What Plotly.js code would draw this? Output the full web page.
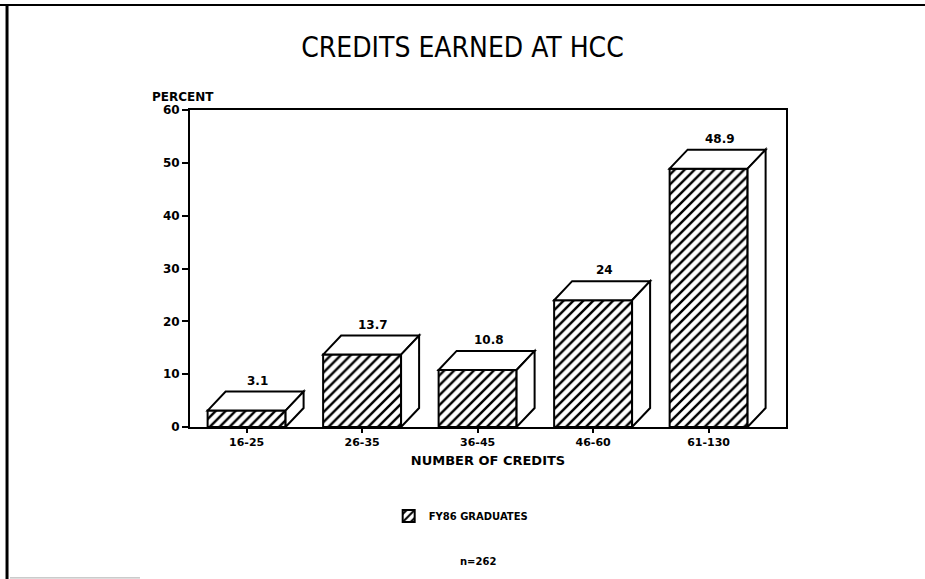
<!DOCTYPE html>
<html>
<head>
<meta charset="utf-8">
<script src="https://cdn.plot.ly/plotly-3.0.1.min.js"></script>
<style>html,body{margin:0;padding:0;background:#fff;}#chart{width:925px;height:579px;}</style>
</head>
<body>
<div id="chart"></div>
<script>
var categories = ["16-25", "26-35", "36-45", "46-60", "61-130"];
var percents = [3.1, 13.7, 10.8, 24, 48.9];
var valueLabels = ["3.1", "13.7", "10.8", "24", "48.9"];
var seriesName = "FY86 GRADUATES";
var yTicks = [0, 10, 20, 30, 40, 50, 60];

var idx = categories.map(function (c, i) { return i; });
var barWidth = 0.675;
var half = barWidth / 2;
var dx = 0.156;   // depth offset along x (category units)
var dy = 3.6;     // depth offset along y (percent units)

var boldFont = {family: "DejaVu Sans", size: 11, color: "#000", weight: "bold"};

var trace = {
  type: "bar",
  x: idx,
  y: percents,
  width: barWidth,
  name: seriesName,
  showlegend: true,
  marker: {
    color: "white",
    line: {color: "black", width: 2},
    pattern: {shape: "/", fgcolor: "black", bgcolor: "white", size: 7, solidity: 0.35}
  },
  hoverinfo: "skip"
};

var shapes = [];
idx.forEach(function (i) {
  var v = percents[i];
  var L = i - half, R = i + half;
  shapes.push({
    type: "path", xref: "x", yref: "y", layer: "above",
    path: "M" + L + "," + v + " L" + (L + dx) + "," + (v + dy) + " L" + (R + dx) + "," + (v + dy) + " L" + R + "," + v + " Z",
    fillcolor: "white", line: {color: "black", width: 2}
  });
  shapes.push({
    type: "path", xref: "x", yref: "y", layer: "above",
    path: "M" + R + "," + v + " L" + (R + dx) + "," + (v + dy) + " L" + (R + dx) + "," + dy + " L" + R + ",0 Z",
    fillcolor: "white", line: {color: "black", width: 2}
  });
});
// page frame
shapes.push({type: "line", xref: "paper", yref: "paper", x0: -0.3188, x1: 1.2332, y0: 1.3312, y1: 1.3312, line: {color: "black", width: 2}});
shapes.push({type: "line", xref: "paper", yref: "paper", x0: -0.307, x1: -0.307, y0: 1.3312, y1: -0.4795, line: {color: "black", width: 3}});
shapes.push({type: "line", xref: "paper", yref: "paper", x0: -0.302, x1: -0.0839, y0: -0.476, y1: -0.476, line: {color: "#aaa", width: 1}});

var annotations = idx.map(function (i) {
  return {
    x: i + dx / 2 + 0.02, y: percents[i] + dy, xref: "x", yref: "y",
    text: valueLabels[i], showarrow: false, yanchor: "middle", yshift: 11,
    font: {family: "DejaVu Sans", size: 12, color: "#000", weight: "bold"}
  };
});
annotations.push({
  x: -0.067, y: 1.041, xref: "paper", yref: "paper", xanchor: "left", yanchor: "middle",
  text: "PERCENT", showarrow: false, font: {family: "DejaVu Sans", size: 12, color: "#000", weight: "bold"}
});
annotations.push({
  x: 0.483, y: -0.423, xref: "paper", yref: "paper", xanchor: "center", yanchor: "middle",
  text: "n=262", showarrow: false, font: {family: "DejaVu Sans", size: 10, color: "#000", weight: "bold"}
});

var layout = {
  width: 925, height: 579,
  margin: {l: 190, r: 139, t: 110, b: 152},
  paper_bgcolor: "white", plot_bgcolor: "white",
  title: {
    text: "CREDITS EARNED AT HCC",
    x: 0.5, xref: "container", xanchor: "center",
    y: 0.919, yref: "container", yanchor: "middle",
    font: {family: "DejaVu Sans Condensed, Liberation Sans, sans-serif", size: 28, color: "#000"}
  },
  xaxis: {
    range: [-0.49, 4.67],
    tickvals: idx, ticktext: categories,
    showline: true, mirror: true, linecolor: "black", linewidth: 2,
    ticks: "outside", ticklen: 4, tickwidth: 2, tickcolor: "black",
    showgrid: false, zeroline: false,
    tickfont: boldFont,
    title: {text: "NUMBER OF CREDITS", standoff: 8, font: {family: "DejaVu Sans", size: 13, color: "#000", weight: "bold"}}
  },
  yaxis: {
    range: [0, 60], tickvals: yTicks,
    showline: true, mirror: true, linecolor: "black", linewidth: 2,
    ticks: "outside", ticklen: 6, tickwidth: 2, tickcolor: "black",
    showgrid: false, zeroline: false,
    tickfont: {family: "DejaVu Sans", size: 12, color: "#000", weight: "bold"}
  },
  showlegend: true,
  legend: {
    orientation: "h", x: 0.455, xanchor: "center", y: -0.235, yanchor: "top",
    font: {family: "DejaVu Sans", size: 10, color: "#000", weight: "bold"},
    bgcolor: "rgba(0,0,0,0)"
  },
  shapes: shapes,
  annotations: annotations,
  bargap: 0.3
};

Plotly.newPlot("chart", [trace], layout, {displayModeBar: false, staticPlot: true});
</script>
</body>
</html>
